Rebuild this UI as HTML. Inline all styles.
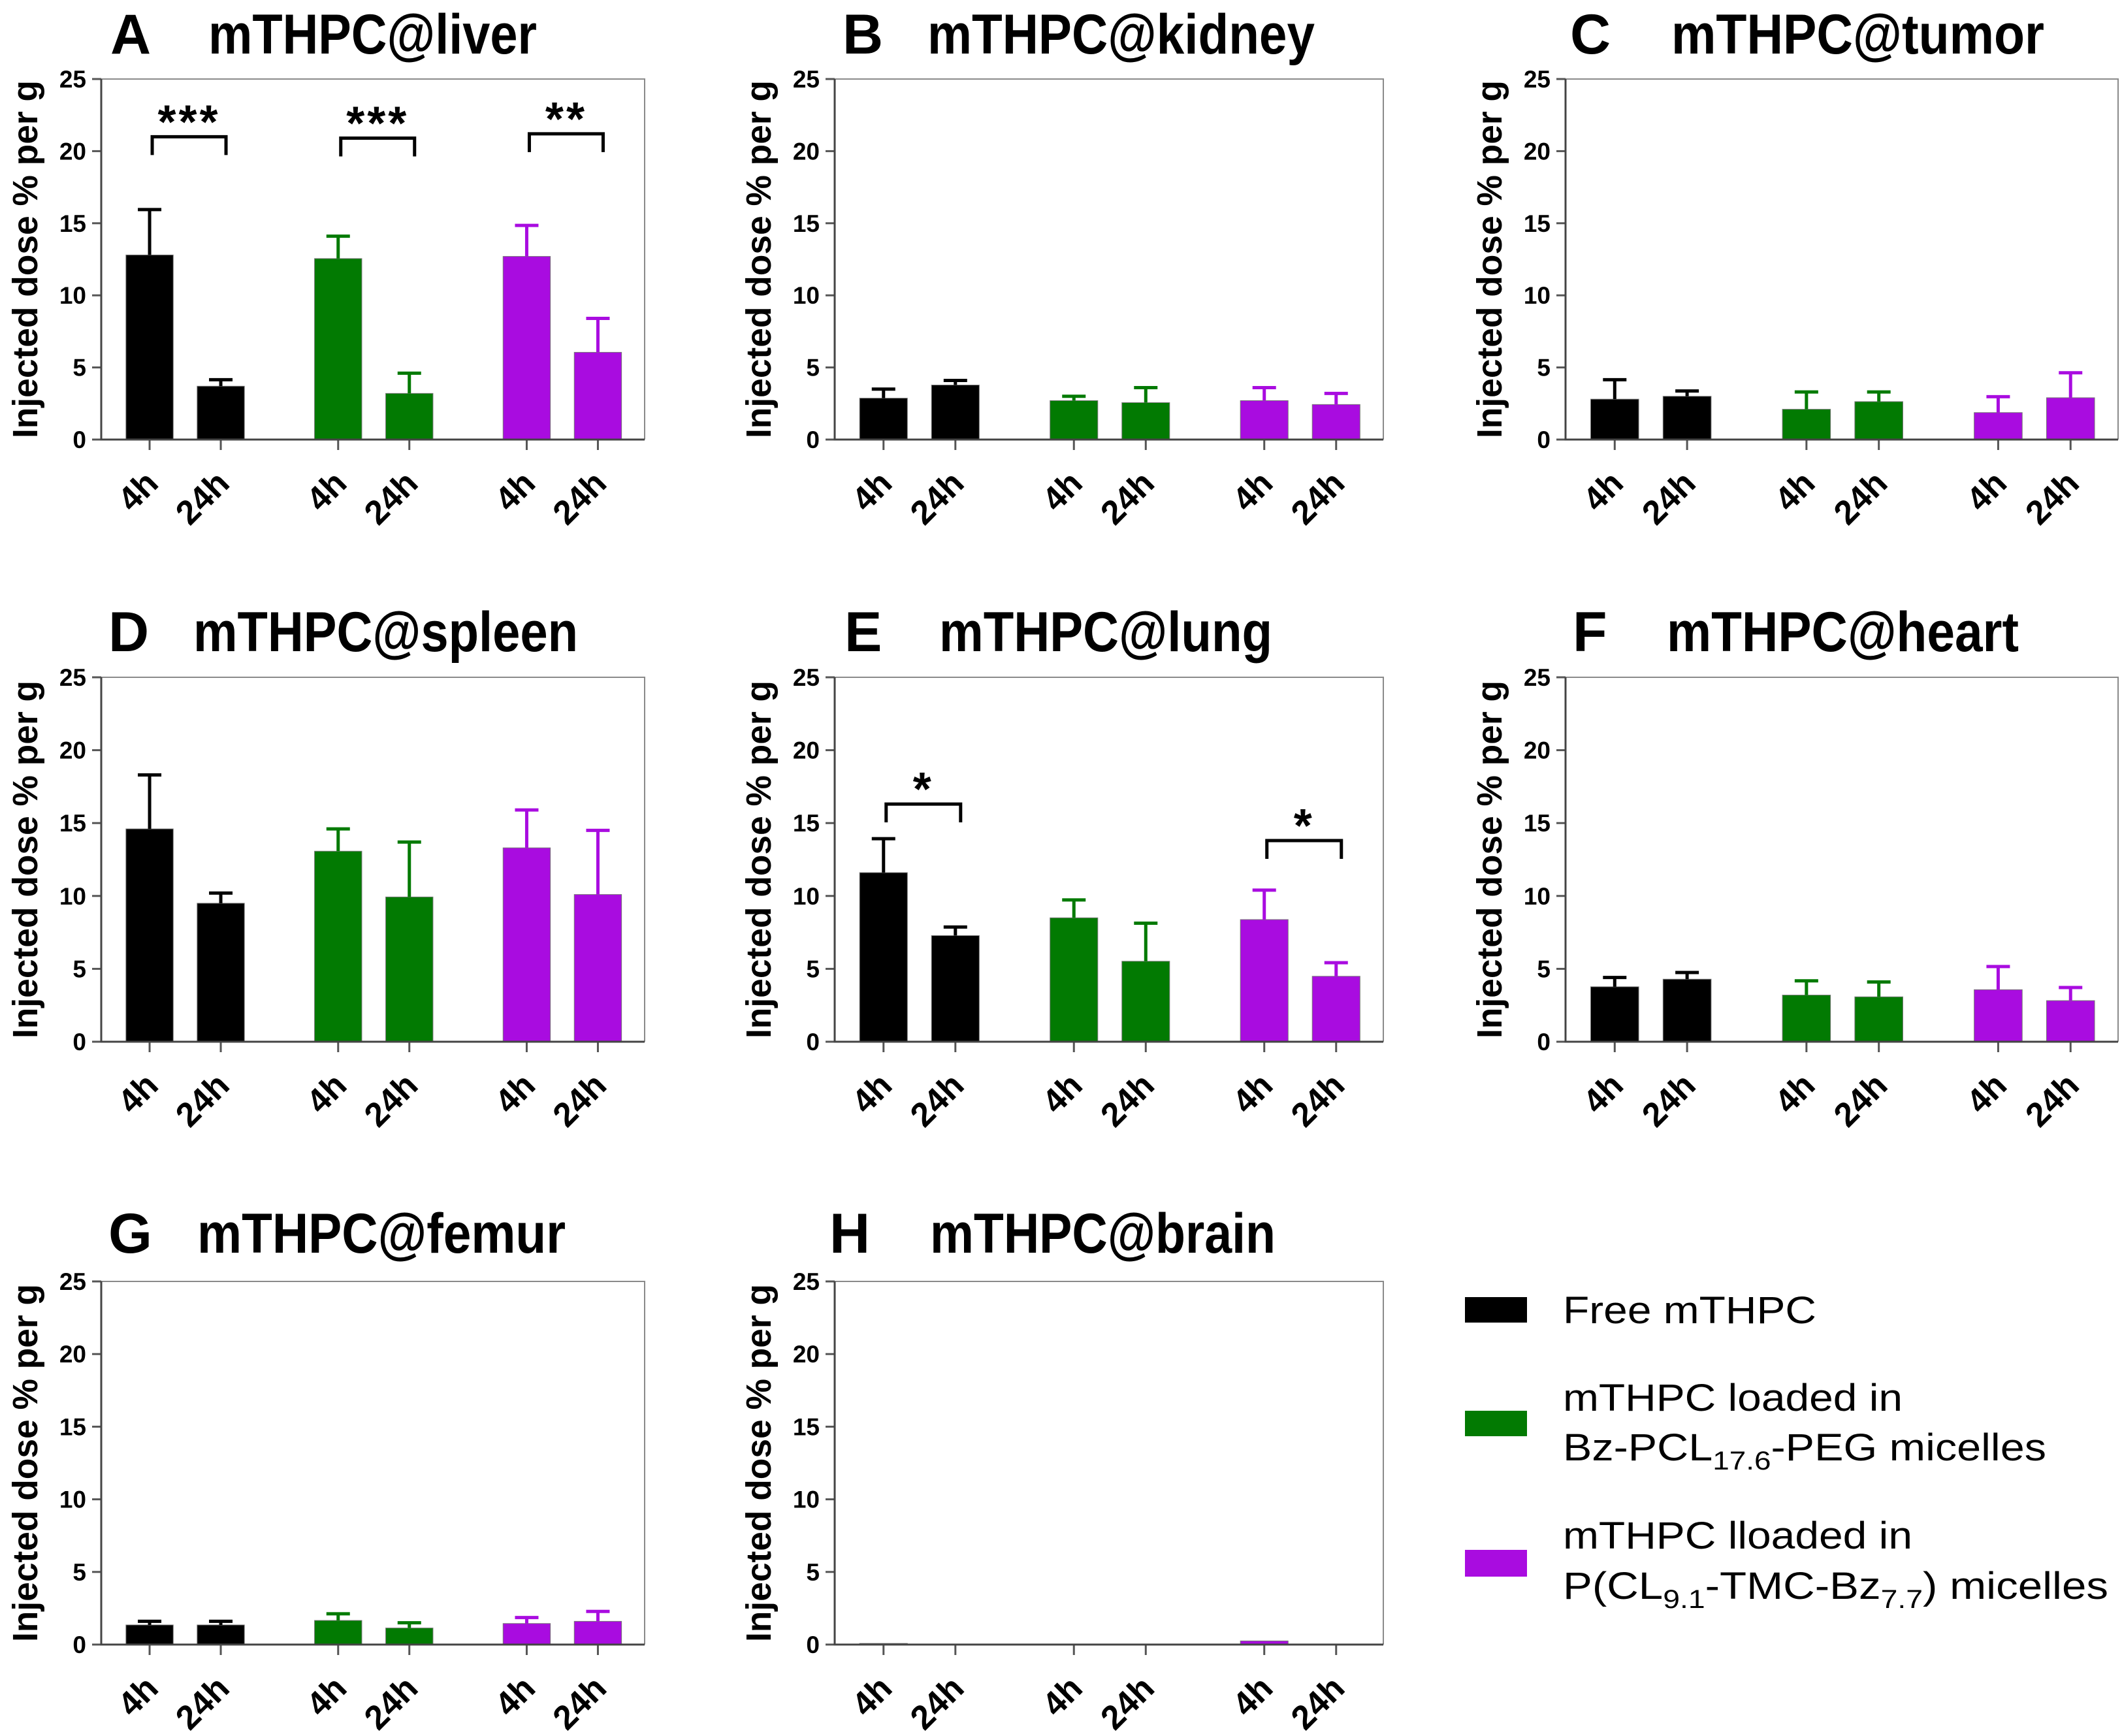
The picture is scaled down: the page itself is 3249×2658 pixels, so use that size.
<!DOCTYPE html>
<html><head><meta charset="utf-8"><style>
html,body{margin:0;padding:0;background:#fff;}
svg{display:block;font-family:"Liberation Sans",Arial,sans-serif;}
</style></head><body>
<svg id="fig" width="3249" height="2658" viewBox="0 0 3249 2658" xmlns="http://www.w3.org/2000/svg"></svg>
<script>
// ---- data (injected dose % per g) ----
const groups = ["Free mTHPC", "Bz-PCL micelles", "P(CL-TMC-Bz) micelles"];
const timepoints = ["4h", "24h"];
const yTicks = [0, 5, 10, 15, 20, 25];
const liverMeans  = [12.8, 3.7, 12.55, 3.2, 12.7, 6.05];
const liverErrs   = [3.15, 0.45, 1.55, 1.4, 2.15, 2.35];
const kidneyMeans = [2.87, 3.78, 2.7, 2.56, 2.7, 2.43];
const kidneyErrs  = [0.63, 0.32, 0.3, 1.04, 0.9, 0.77];
const tumorMeans  = [2.8, 3.0, 2.1, 2.63, 1.87, 2.9];
const tumorErrs   = [1.35, 0.37, 1.2, 0.67, 1.1, 1.73];
const spleenMeans = [14.6, 9.5, 13.07, 9.93, 13.3, 10.1];
const spleenErrs  = [3.7, 0.7, 1.53, 3.77, 2.6, 4.4];
const lungMeans   = [11.6, 7.28, 8.5, 5.52, 8.38, 4.49];
const lungErrs    = [2.33, 0.59, 1.23, 2.61, 2.02, 0.93];
const heartMeans  = [3.77, 4.29, 3.2, 3.08, 3.57, 2.82];
const heartErrs   = [0.64, 0.46, 0.98, 1.02, 1.59, 0.9];
const femurMeans  = [1.35, 1.35, 1.66, 1.14, 1.45, 1.6];
const femurErrs   = [0.25, 0.25, 0.46, 0.36, 0.41, 0.68];
const brainMeans  = [0.08, 0, 0, 0, 0.25, 0];
const brainErrs   = [0, 0, 0, 0, 0, 0];
// significance: [barA, barB, bracketValue, stars]
const liverSig = [[0, 1, 21.0, "***"], [2, 3, 20.9, "***"], [4, 5, 21.2, "**"]];
const lungSig  = [[0, 1, 16.3, "*"], [4, 5, 13.8, "*"]];

const colors = ["#000000", "#027a02", "#a90ce0"];
const NS = "http://www.w3.org/2000/svg";
const svg = document.getElementById("fig");
function mk(tag, attrs, parent) {
  const e = document.createElementNS(NS, tag);
  for (const k in attrs) e.setAttribute(k, attrs[k]);
  (parent || svg).appendChild(e);
  return e;
}
const cols = [[155, 987], [1278, 2118], [2397, 3243]];
const rows = [[121, 673, 82], [1037, 1595, 997], [1962, 2518, 1918]];
const panels = [
  {letter: "A", title: "mTHPC@liver", c: 0, r: 0, means: liverMeans, errs: liverErrs, sig: liverSig, tw: 503, lx: 169, tx: 319},
  {letter: "B", title: "mTHPC@kidney", c: 1, r: 0, means: kidneyMeans, errs: kidneyErrs, sig: [], tw: 593, lx: 1290, tx: 1420},
  {letter: "C", title: "mTHPC@tumor", c: 2, r: 0, means: tumorMeans, errs: tumorErrs, sig: [], tw: 571, lx: 2404, tx: 2559},
  {letter: "D", title: "mTHPC@spleen", c: 0, r: 1, means: spleenMeans, errs: spleenErrs, sig: [], tw: 589, lx: 166, tx: 296},
  {letter: "E", title: "mTHPC@lung", c: 1, r: 1, means: lungMeans, errs: lungErrs, sig: lungSig, tw: 510, lx: 1293, tx: 1438},
  {letter: "F", title: "mTHPC@heart", c: 2, r: 1, means: heartMeans, errs: heartErrs, sig: [], tw: 539, lx: 2408, tx: 2552},
  {letter: "G", title: "mTHPC@femur", c: 0, r: 2, means: femurMeans, errs: femurErrs, sig: [], tw: 564, lx: 166, tx: 302},
  {letter: "H", title: "mTHPC@brain", c: 1, r: 2, means: brainMeans, errs: brainErrs, sig: [], tw: 529, lx: 1270, tx: 1424}
];

panels.forEach(p => {
  const L = cols[p.c][0], R = cols[p.c][1], T = rows[p.r][0], B = rows[p.r][1], TB = rows[p.r][2];
  const W = R - L;
  const y = v => B - (v / 25) * (B - T);
  const xc = i => L + W * (0.089 + Math.floor(i / 2) * 0.347 + (i % 2) * 0.131);
  const bw = W * 0.087;
  const g = mk("g", {});
  
  

  const lt = mk("text", {x: p.lx, y: TB, "font-size": 86, "font-weight": "bold", fill: "#000"}, g);
  lt.textContent = p.letter;
  
  
  const tt = mk("text", {x: p.tx, y: TB, "font-size": 86, "font-weight": "bold", fill: "#000", textLength: p.tw, lengthAdjust: "spacingAndGlyphs"}, g);
  tt.textContent = p.title;
  
  

  const fr = mk("path", {d: `M${L} ${T}H${R}V${B}`, fill: "none", stroke: "#8a8a8a", "stroke-width": 2}, g);
  
  

  const cy = (T + B) / 2;
  const yt = mk("text", {x: 0, y: 0, transform: `translate(${L - 98},${cy}) rotate(-90)`, "text-anchor": "middle", "font-size": 54, "font-weight": "bold", fill: "#000", textLength: 548, lengthAdjust: "spacingAndGlyphs"}, g);
  yt.textContent = "Injected dose % per g";
  
  

  yTicks.forEach(v => {
    const tk = mk("line", {x1: L - 14, x2: L, y1: y(v), y2: y(v), stroke: "#555", "stroke-width": 3}, g);
    
    
    const tl = mk("text", {x: L - 23, y: y(v) + 13, "text-anchor": "end", "font-size": 37, "font-weight": "bold", fill: "#000"}, g);
    tl.textContent = v;
    
    
  });

  p.means.forEach((m, i) => {
    const col = colors[Math.floor(i / 2)];
    const x = xc(i);
    const h = B - y(m);
    if (h > 0) {
      const b = mk("rect", {x: x - bw / 2, y: y(m), width: bw, height: h, fill: col, stroke: "#777", "stroke-width": 1}, g);
      
      
    }
    const e = p.errs[i];
    if (e > 0) {
      const el = mk("path", {d: `M${x} ${y(m)}V${y(m + e)}M${x - 18} ${y(m + e)}H${x + 18}`, fill: "none", stroke: col, "stroke-width": 5}, g);
      
      
    }
    const xt = mk("line", {x1: x, x2: x, y1: B, y2: B + 16, stroke: "#555", "stroke-width": 3}, g);
    
    
    const xl = mk("text", {x: 0, y: 0, transform: `translate(${x + 16},${B + 70}) rotate(-45)`, "text-anchor": "end", "font-size": 52, "font-weight": "bold", fill: "#000"}, g);
    xl.textContent = timepoints[i % 2];
    
    
  });

  const ax = mk("path", {d: `M${L} ${T}V${B}H${R}`, fill: "none", stroke: "#444", "stroke-width": 3}, g);
  
  

  p.sig.forEach(s => {
    const x1 = xc(s[0]) + 4, x2 = xc(s[1]) + 8, yy = y(s[2]);
    const br = mk("path", {d: `M${x1} ${yy + 28}V${yy}H${x2}V${yy + 28}`, fill: "none", stroke: "#000", "stroke-width": 5}, g);
    
    
    const st = mk("text", {x: (x1 + x2) / 2, y: yy + 2, "text-anchor": "middle", "font-size": 72, "font-weight": "bold", fill: "#000", "letter-spacing": 4}, g);
    st.textContent = s[3];
    
    
  });
});
</script>
<svg width="3249" height="2658" style="position:absolute;left:0;top:0" xmlns="http://www.w3.org/2000/svg" font-family="Liberation Sans, Arial, sans-serif">
  <rect x="2243" y="1986" width="95" height="39" fill="#000"/>
  <text x="2393" y="2026" font-size="58" textLength="388" lengthAdjust="spacingAndGlyphs">Free mTHPC</text>
  <rect x="2243" y="2160" width="95" height="39" fill="#027a02"/>
  <text x="2393" y="2160" font-size="58" textLength="520" lengthAdjust="spacingAndGlyphs">mTHPC loaded in</text>
  <text x="2393" y="2236" font-size="58" textLength="740" lengthAdjust="spacingAndGlyphs">Bz-PCL<tspan font-size="40" dy="14">17.6</tspan><tspan dy="-14">-PEG micelles</tspan></text>
  <rect x="2243" y="2373" width="95" height="41" fill="#a90ce0"/>
  <text x="2393" y="2371" font-size="58" textLength="535" lengthAdjust="spacingAndGlyphs">mTHPC lloaded in</text>
  <text x="2393" y="2448" font-size="58" textLength="835" lengthAdjust="spacingAndGlyphs">P(CL<tspan font-size="40" dy="14">9.1</tspan><tspan dy="-14">-TMC-Bz</tspan><tspan font-size="40" dy="14">7.7</tspan><tspan dy="-14">) micelles</tspan></text>
</svg>
</body></html>
